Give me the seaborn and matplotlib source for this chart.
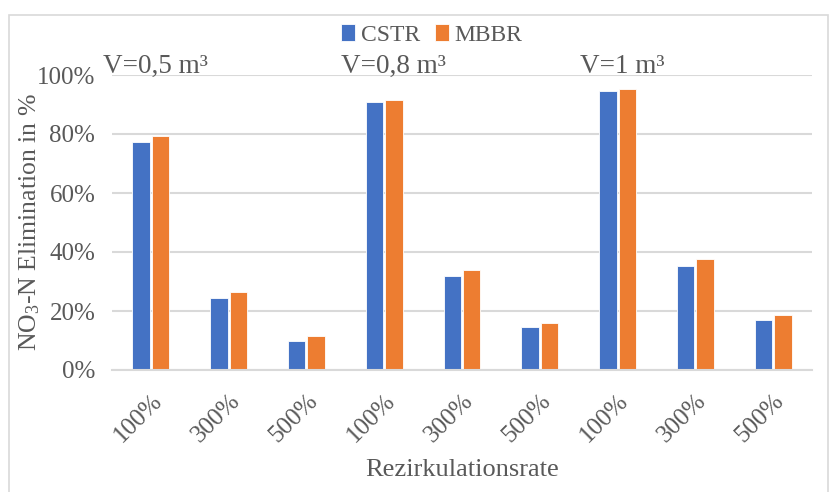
import pandas as pd
import matplotlib.pyplot as plt
import seaborn as sns
from matplotlib.patches import Rectangle
from matplotlib.transforms import offset_copy

# Data
volumes = ['V=0,5 m³', 'V=0,8 m³', 'V=1 m³']
rates = ['100%', '300%', '500%']
cstr = [77.2, 24.4, 9.9, 90.7, 31.8, 14.6, 94.7, 35.3, 16.9]
mbbr = [79.2, 26.4, 11.6, 91.5, 33.9, 16.1, 95.1, 37.7, 18.6]

# Long-form table (unique x ids, since the rate labels repeat)
ids = [f'{v}|{r}' for v in volumes for r in rates]
df = pd.DataFrame({
    'slot': ids * 2,
    'reactor': ['CSTR'] * len(ids) + ['MBBR'] * len(ids),
    'value': [c / 100 for c in cstr] + [m / 100 for m in mbbr],
})

sns.set_style('white')
plt.rcParams['font.family'] = ['Liberation Serif', 'DejaVu Serif']
plt.rcParams['mathtext.fontset'] = 'custom'
plt.rcParams['mathtext.rm'] = 'Liberation Serif'
plt.rcParams['mathtext.it'] = 'Liberation Serif:italic'
text_col = '#595959'
grid_col = '#D9D9D9'

fig = plt.figure(figsize=(8.33, 4.92), dpi=100)
ax = fig.add_axes([112 / 833, 1 - 370 / 492, 700 / 833, 295 / 492])

sns.barplot(
    data=df, x='slot', y='value', hue='reactor', order=ids,
    palette={'CSTR': '#4472C4', 'MBBR': '#ED7D31'}, saturation=1,
    width=0.5, gap=0.1, edgecolor='white', linewidth=0.6,
    ax=ax, legend=True,
)

ax.set_ylim(0, 1)
ax.set_yticks([0, 0.2, 0.4, 0.6, 0.8, 1.0])
ax.set_yticklabels([f'{int(round(t * 100))}%' for t in ax.get_yticks()])
ax.set_xticks(range(len(ids)))
ax.set_xticklabels(rates * len(volumes), rotation=45, ha='right',
                   rotation_mode='anchor')
ax.set_xlim(-0.5, len(ids) - 0.5)
ax.yaxis.grid(True, color=grid_col, linewidth=1.5)
ax.set_axisbelow(True)
for side in ['top', 'right', 'left']:
    ax.spines[side].set_visible(False)
ax.spines['bottom'].set_color(grid_col)
ax.spines['bottom'].set_linewidth(1.5)
ax.tick_params(axis='both', length=0, labelsize=18, colors=text_col)
ax.tick_params(axis='y', pad=12)
ax.tick_params(axis='x', pad=14)

ax.set_xlabel('Rezirkulationsrate', fontsize=19, color=text_col, labelpad=9)
ax.set_ylabel(r'NO$_3$-N Elimination in %', fontsize=18.5, color=text_col)
ax.yaxis.set_label_coords(-0.1, 0.5)

# Group labels sitting on the top gridline
base = offset_copy(ax.get_xaxis_transform(), fig=fig, y=2, units='dots')
for g, v in enumerate(volumes):
    ax.text(g * 3.07 - 0.62, 1.0, v, transform=base,
            ha='left', va='baseline', fontsize=19.5, color=text_col)

# Legend at the top
handles, labels = ax.get_legend_handles_labels()
ax.legend(handles, labels, loc='center', bbox_to_anchor=(432 / 833, 1 - 35 / 492),
          bbox_transform=fig.transFigure, ncol=2, frameon=False,
          fontsize=17, handlelength=0.6, handleheight=0.7,
          handletextpad=0.25, columnspacing=0.6, labelcolor=text_col)

# Chart border
fig.patches.append(Rectangle((9 / 833, -0.05), 819 / 833, 1 - 15 / 492 + 0.05,
                             transform=fig.transFigure, fill=False,
                             edgecolor=grid_col, linewidth=1.2))

fig.savefig('out.png', dpi=100)
